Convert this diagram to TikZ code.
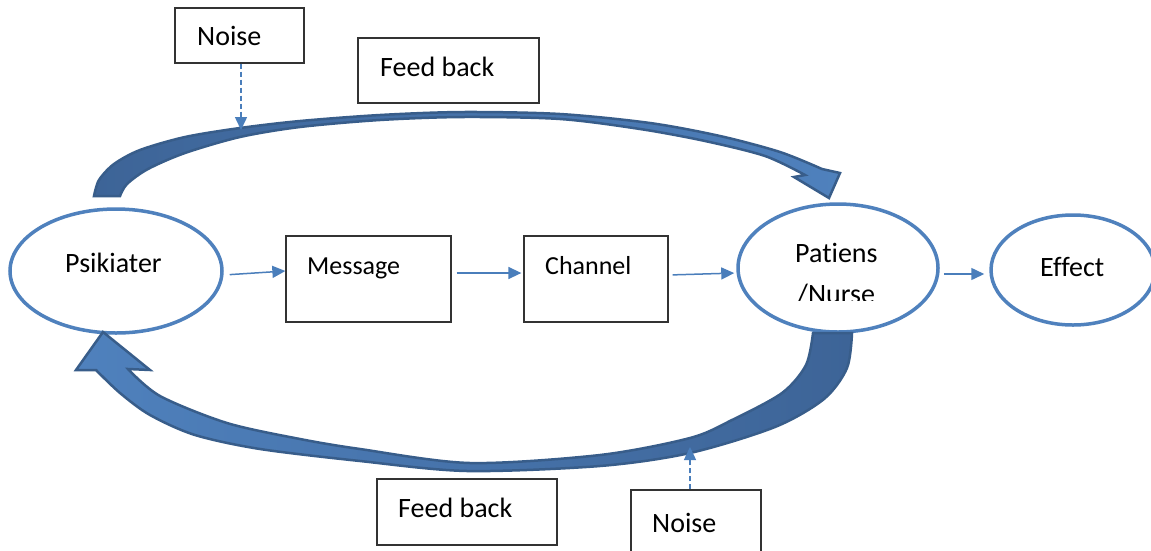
\documentclass[tikz,border=0pt]{standalone}
\usepackage{fontspec}
\setmainfont{Carlito}[Ligatures=NoCommon]
\usetikzlibrary{arrows.meta,shapes.geometric}
\definecolor{ellc}{HTML}{4F81BD}
\definecolor{thinc}{HTML}{4A7EBB}
\definecolor{bigedge}{HTML}{385D8A}
\definecolor{bigdark}{HTML}{3D6497}
\definecolor{boxline}{HTML}{333333}
\begin{document}
\begin{tikzpicture}[x=1pt,y=-1pt,
  font=\fontsize{28}{34}\selectfont,
  ellnode/.style={ellipse, draw=ellc, line width=3.5pt, inner sep=0pt},
  boxnode/.style={rectangle, draw=boxline, line width=1.3pt, inner sep=0pt, fill=white},
  txt/.style={anchor=base west, inner sep=0pt, text=black},
  smalltxt/.style={txt, font=\fontsize{26}{31}\selectfont},
  arr/.style={draw=thinc, line width=1.5pt, -{Triangle[length=13pt,width=12pt]}},
  dasharr/.style={draw=thinc, line width=1.5pt, dash pattern=on 5pt off 3pt, -{Triangle[length=13pt,width=12pt]}},
  bigarrow/.style={draw=bigedge, line width=2.5pt, line join=miter}]
\clip (0,0) rectangle (1151,550);
\fill[white] (0,0) rectangle (1151,550);

% ellipses
\node[ellnode, minimum width=212pt, minimum height=124pt] (psi) at (116,271) {};
\node[ellnode, minimum width=200pt, minimum height=128pt] (pat) at (838,268) {};
\node[ellnode, minimum width=164pt, minimum height=110pt] (eff) at (1073,270) {};

% boxes
\node[boxnode, minimum width=129pt, minimum height=55pt] (noise1) at (239.5,35.5) {};
\node[boxnode, minimum width=181pt, minimum height=65pt] (fb1) at (448.5,70.5) {};
\node[boxnode, minimum width=165pt, minimum height=86pt] (msg) at (368.5,279) {};
\node[boxnode, minimum width=144pt, minimum height=86pt] (chan) at (596,279) {};
\node[boxnode, minimum width=180pt, minimum height=66pt] (fb2) at (467,512) {};
\node[boxnode, minimum width=130pt, minimum height=80pt] (noise2) at (696,530) {};

% texts
\node[txt] (tn1) at (197,45) {Noise};
\node[txt] (tf1) at (380,76) {Feed back};
\node[txt] (tpsi) at (65,272) {Psikiater};
\node[smalltxt] (tmsg) at (307,274) {Message};
\node[smalltxt] (tchan) at (545,274) {Channel};
\node[txt] (tpat) at (795,262) {Patiens};
\begin{scope}
  \clip (780,270) rectangle (900,300);
  \node[txt] (tnur) at (797,303) {/Nurse};
\end{scope}
\node[txt] (teff) at (1040,276) {Effect};
\node[txt] (tf2) at (398,517) {Feed back};
\node[txt] (tn2) at (652,532) {Noise};

% thin arrows
\draw[arr, shorten <=6pt] ([yshift=-4pt]psi.east) -- ([yshift=8pt]msg.west);
\draw[arr, shorten <=5pt, shorten >=2pt] ([yshift=6pt]msg.east) -- ([yshift=6pt]chan.west);
\draw[arr, shorten <=4pt, shorten >=2pt] ([yshift=4pt]chan.east) -- ([yshift=-5pt]pat.west);
\draw[arr, shorten <=4pt, shorten >=5pt] ([yshift=-6pt]pat.east) -- ([yshift=-4pt]eff.west);

% top feedback arrow
\shadedraw[bigarrow, left color=bigdark, right color=ellc]
  plot[smooth] coordinates {(94,196) (99,180) (114,164) (140,150) (185,137) (240,128) (300,121) (380,115) (463,112) (560,114) (650,123) (720,136) (780,152) (822,169)}
  -- (840,173) -- (829,198) -- (794,177)
  -- plot[smooth] coordinates {(805,175) (765,156) (705,141) (640,129) (560,119) (463,117) (380,120) (300,127) (240,137) (185,153) (148,169) (127,184) (120,196)}
  -- cycle;

% bottom feedback arrow
\shadedraw[bigarrow, left color=ellc, right color=bigdark]
  plot[smooth] coordinates {(852,333) (847,368) (824,399) (775,427) (690,453) (600,466) (467,471) (360,461) (260,449) (195,435) (150,415) (120,393) (96,370)}
  -- (76,370) -- (103,332) -- (150,370)
  -- plot[smooth] coordinates {(128,369) (160,396) (227,423) (300,439) (360,449) (470,463) (600,455) (690,438) (732,420) (782,393) (806,365) (813,333)}
  -- cycle;

% noise arrows
\coordinate (n1end) at (241,130);
\coordinate (n2end) at (690,447);
\draw[dasharr] ([xshift=1.5pt]noise1.south) -- (n1end);
\draw[dasharr] ([xshift=-6pt]noise2.north) -- (n2end);
\end{tikzpicture}
\end{document}
